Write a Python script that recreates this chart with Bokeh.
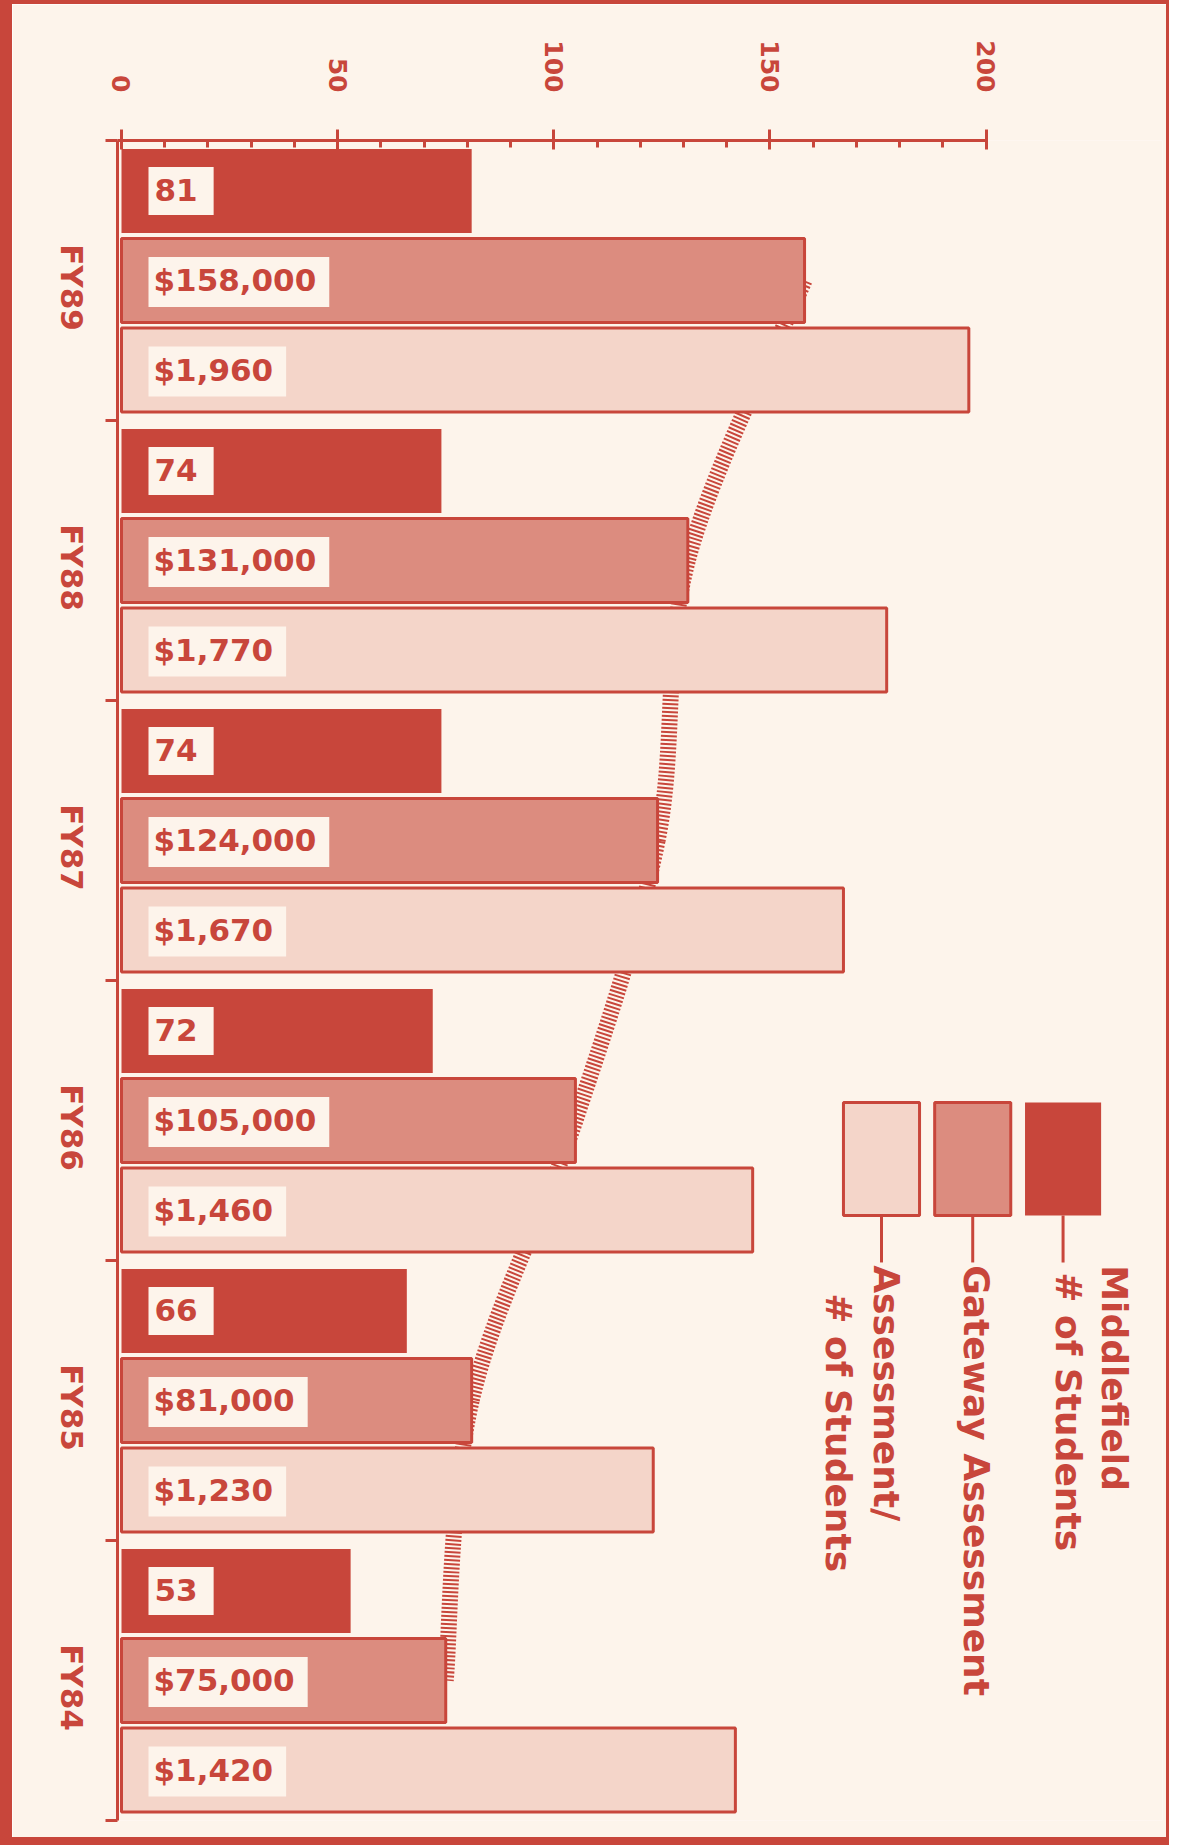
import math
import numpy as np
from bokeh.plotting import figure
from bokeh.models import Range1d, LinearAxis, FixedTicker, ColumnDataSource
from bokeh.core.properties import value
from bokeh.embed import file_html
from bokeh.resources import INLINE

# ---------------- data ----------------
years = ["FY89", "FY88", "FY87", "FY86", "FY85", "FY84"]
students = [81, 74, 74, 72, 66, 53]                     # Middlefield # of students
gateway_thousands = [158, 131, 124, 105, 81, 75]        # Gateway assessment ($ thousands)
per_student = [1960, 1770, 1670, 1460, 1230, 1420]      # Assessment / # of students ($)
x_ticks = [0, 50, 100, 150, 200]
x_minor_ticks = [10, 20, 30, 40, 60, 70, 80, 90, 110, 120, 130, 140, 160, 170, 180, 190]
legend_lines = [["Middlefield", "# of Students"], ["Gateway Assessment"], ["Assessment/", "# of Students"]]

# ---------------- style ----------------
RED = "#c8463b"
GW_FILL = "#dc8c7f"
LIGHT_FILL = "#f4d5c9"
BG = "#fdf4eb"
FONT = value("DejaVu Sans")

W, H = 1154, 1833
X0, X1 = -0.925, 240.8
n = len(years)
PX_PER_Y = 280.0

p = figure(width=W, height=H, x_range=Range1d(X0, X1), y_range=Range1d(0, n),
           x_axis_location=None, y_axis_location=None, toolbar_location=None,
           output_backend="svg", min_border_left=105, min_border_right=19,
           min_border_top=136, min_border_bottom=29,
           background_fill_color=BG, border_fill_color=BG, outline_line_color=None)
p.grid.visible = False
# outer frame of the chart (thick left/bottom, thin top/right)
p.styles = {"box-sizing": "content-box",
            "border-left": f"12px solid {RED}", "border-top": f"4px solid {RED}",
            "border-right": f"3px solid {RED}", "border-bottom": f"8px solid {RED}"}

# group centres (FY89 at top)
centers = np.array([n - 0.5 - i for i in range(n)])
bounds_y = [float(i) for i in range(n + 1)]
label_pos = centers - 0.18   # rotated category labels end slightly below the group centre

# ---------------- axes ----------------
xa = LinearAxis(ticker=FixedTicker(ticks=x_ticks, minor_ticks=x_minor_ticks),
                bounds=(X0, 200),
                axis_line_color=RED, axis_line_width=3,
                major_tick_line_color=RED, major_tick_line_width=3,
                major_tick_in=9, major_tick_out=11,
                minor_tick_line_color=RED, minor_tick_line_width=3,
                minor_tick_in=7, minor_tick_out=0,
                major_label_orientation=-math.pi / 2, major_label_standoff=37,
                major_label_text_font="DejaVu Sans", major_label_text_font_style="bold",
                major_label_text_font_size="25px", major_label_text_color=RED)
p.add_layout(xa, "above")

ya = LinearAxis(ticker=FixedTicker(ticks=[float(v) for v in label_pos], minor_ticks=bounds_y),
                bounds=(0, n),
                major_label_overrides={float(c): y for c, y in zip(label_pos, years)},
                axis_line_color=RED, axis_line_width=3,
                major_tick_line_color=None, major_tick_in=0, major_tick_out=0,
                minor_tick_line_color=RED, minor_tick_line_width=3,
                minor_tick_in=0, minor_tick_out=12,
                major_label_orientation=-math.pi / 2, major_label_standoff=34,
                major_label_text_font="DejaVu Sans", major_label_text_font_style="bold",
                major_label_text_font_size="31px", major_label_text_color=RED)
p.add_layout(ya, "left")

# ---------------- trend curve through gateway values (behind bars) ----------------
gx = np.array(gateway_thousands, dtype=float)
gy = centers.copy()
px = np.concatenate([[gx[0]], gx, [gx[-1]]])
py = np.concatenate([[gy[0]], gy, [gy[-1]]])
bz = dict(x0=[], y0=[], x1=[], y1=[], cx0=[], cy0=[], cx1=[], cy1=[])
for i in range(1, len(px) - 2):
    bz["x0"].append(px[i]); bz["y0"].append(py[i])
    bz["x1"].append(px[i + 1]); bz["y1"].append(py[i + 1])
    bz["cx0"].append(px[i] + (px[i + 1] - px[i - 1]) / 6)
    bz["cy0"].append(py[i] + (py[i + 1] - py[i - 1]) / 6)
    bz["cx1"].append(px[i + 1] - (px[i + 2] - px[i]) / 6)
    bz["cy1"].append(py[i + 1] - (py[i + 2] - py[i]) / 6)
p.bezier(x0="x0", y0="y0", x1="x1", y1="y1", cx0="cx0", cy0="cy0", cx1="cx1", cy1="cy1",
         source=ColumnDataSource(bz), line_color=RED, line_width=16, line_dash="2 2",
         line_cap="butt")

# ---------------- bars ----------------
OFF = 0.32
BAR_H = 0.30
DROP = 1.5 / PX_PER_Y   # small shift so that the rendered "$" labels sit centred in the bar
src = ColumnDataSource(dict(
    y_s=centers + OFF, y_g=centers, y_p=centers - OFF,
    t_s=centers + OFF, t_g=centers - DROP, t_p=centers - OFF - DROP,
    students=students, gateway=gateway_thousands,
    per=[v / 10 for v in per_student],
    lab_s=[str(v) for v in students],
    lab_g=["${:,}".format(v * 1000) for v in gateway_thousands],
    lab_p=["${:,}".format(v) for v in per_student],
))
p.hbar(y="y_s", left=0, right="students", height=BAR_H, source=src,
       fill_color=RED, line_color=None)
p.hbar(y="y_g", left=0, right="gateway", height=BAR_H, source=src,
       fill_color=GW_FILL, line_color=RED, line_width=3)
p.hbar(y="y_p", left=0, right="per", height=BAR_H, source=src,
       fill_color=LIGHT_FILL, line_color=RED, line_width=3)

# padding given as (left, right, top, bottom)
for ycol, tcol, pad in [("t_s", "lab_s", (6, 16, 12, 14)),
                        ("t_g", "lab_g", (5, 13, 5, 9)),
                        ("t_p", "lab_p", (5, 13, 5, 9))]:
    p.text(x=0, y=ycol, text=tcol, source=src, x_offset=27,
           text_align="left", text_baseline="middle",
           text_font=FONT, text_font_style="bold", text_font_size="31px",
           text_color=RED, background_fill_color=BG, padding=pad)

# ---------------- legend (custom, rotated) ----------------
LEG_X = [217.8, 196.9, 175.8]
LEG_W = 17.6
LEG_TOP, LEG_BOT, LEADER_END = 2.564, 2.161, 1.993
fills = [RED, GW_FILL, LIGHT_FILL]
outlines = [None, RED, RED]
line_offsets = [[51, 5], [4], [5, -43]]
line_indent = [[0, 7], [0], [0, 28]]
for k in range(3):
    p.rect(x=[LEG_X[k]], y=[(LEG_TOP + LEG_BOT) / 2], width=LEG_W, height=LEG_TOP - LEG_BOT,
           fill_color=fills[k], line_color=outlines[k], line_width=3)
    p.segment(x0=[LEG_X[k]], y0=[LEG_BOT], x1=[LEG_X[k]], y1=[LEADER_END],
              line_color=RED, line_width=3)
    for j, txt in enumerate(legend_lines[k]):
        p.text(x=[LEG_X[k]], y=[LEADER_END - 0.01 - line_indent[k][j] / PX_PER_Y], text=[txt],
               x_offset=line_offsets[k][j], angle=-math.pi / 2,
               text_align="left", text_baseline="middle",
               text_font=FONT, text_font_style="bold", text_font_size="36px",
               text_color=RED)

open("out.html", "w").write(file_html(p, INLINE))
